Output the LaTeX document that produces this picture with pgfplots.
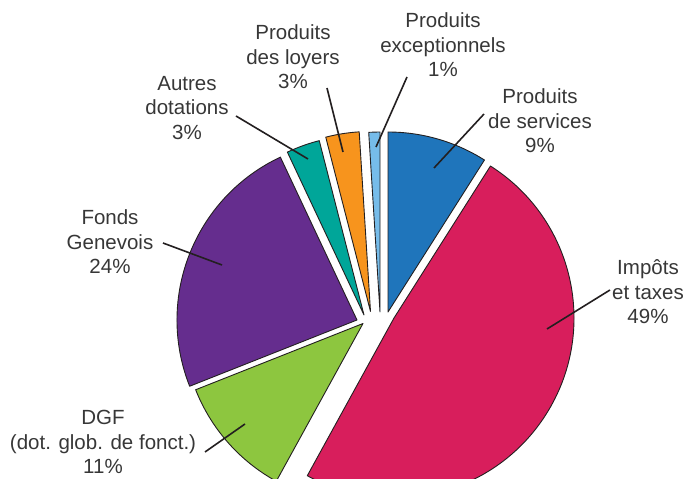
\documentclass[border=0pt]{standalone}
\usepackage{pgfplots}
\usepackage{pgfplotstable}
\pgfplotsset{compat=1.18}
\usepackage{fontspec}
\setmainfont{Liberation Sans}
\definecolor{cblue}{RGB}{31,117,187}
\definecolor{ccrim}{RGB}{216,30,92}
\definecolor{cgreen}{RGB}{141,198,63}
\definecolor{cpurp}{RGB}{101,45,142}
\definecolor{cteal}{RGB}{0,166,153}
\definecolor{corange}{RGB}{247,148,29}
\definecolor{clblue}{RGB}{118,188,234}
\definecolor{outline}{RGB}{35,31,32}
\definecolor{txt}{RGB}{55,55,55}

% value (%), apex position (pixels, y downward), colour
\pgfplotstableread{
v   apx   apy    col
9   388   312    cblue
49  394   318    ccrim
11  363   323.5  cgreen
24  357   320    cpurp
3   364   315    cteal
3   370.5 311.5  corange
1   380   312    clblue
}\slices

\def\startang{90}
\def\slicecmds{}
\pgfplotsforeachungrouped \i in {0,...,6}{%
  \pgfplotstablegetelem{\i}{v}\of\slices \let\val\pgfplotsretval
  \pgfplotstablegetelem{\i}{apx}\of\slices \let\ax\pgfplotsretval
  \pgfplotstablegetelem{\i}{apy}\of\slices \let\ay\pgfplotsretval
  \pgfplotstablegetelem{\i}{col}\of\slices \let\cc\pgfplotsretval
  \pgfmathsetmacro\endang{\startang-3.6*\val}
  \pgfmathsetmacro\ayy{479-\ay}
  \edef\tmp{\noexpand\filldraw[fill=\cc,draw=outline,line width=0.9pt,line join=round]
     (axis cs:\ax,\ayy) -- ++(\startang:180pt) arc[start angle=\startang, end angle=\endang, radius=180pt] -- cycle;}
  \edef\slicecmds{\unexpanded\expandafter{\slicecmds}\unexpanded\expandafter{\tmp}}
  \let\startang\endang
}

\begin{document}
\begin{tikzpicture}
\begin{axis}[
  x=1pt, y=1pt,
  xmin=0, xmax=689, ymin=0, ymax=479,
  hide axis, clip=true,
]
\slicecmds
\tikzset{lbl/.style={align=center, text=txt, font=\fontsize{20.5}{24.5}\selectfont, inner sep=0pt},
         ldr/.style={draw=outline, line width=1.6pt}}
% leader lines
\draw[ldr] (axis cs:484,365) -- (axis cs:434,311);
\draw[ldr] (axis cs:407,402) -- (axis cs:376,332);
\draw[ldr] (axis cs:327,391) -- (axis cs:343,327);
\draw[ldr] (axis cs:236,363) -- (axis cs:308,320);
\draw[ldr] (axis cs:163,236) -- (axis cs:222,214);
\draw[ldr] (axis cs:610,189) -- (axis cs:547,150);
\draw[ldr] (axis cs:205,27) -- (axis cs:245,55);
% labels
\node[lbl] at (axis cs:540,358) {Produits\\de services\\9\%};
\node[lbl] at (axis cs:443,434) {Produits\\exceptionnels\\1\%};
\node[lbl] at (axis cs:293,422) {Produits\\des loyers\\3\%};
\node[lbl] at (axis cs:187,371) {Autres\\dotations\\3\%};
\node[lbl] at (axis cs:110,237) {Fonds\\Genevois\\24\%};
\node[lbl] at (axis cs:648,187) {Impôts\\et taxes\\49\%};
\node[lbl] at (axis cs:103,37) {DGF\\(dot. glob. de fonct.)\\11\%};
\end{axis}
\pgfresetboundingbox
\path[use as bounding box] (current axis.south west) rectangle (current axis.north east);
\end{tikzpicture}
\end{document}
